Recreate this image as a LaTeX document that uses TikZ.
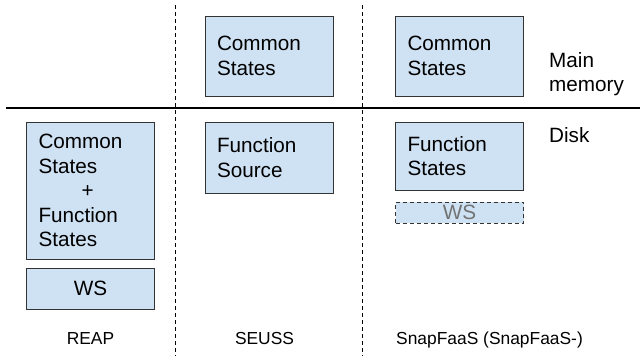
\documentclass[tikz,border=0pt]{standalone}
\usepackage{fontspec}
\setmainfont{Liberation Sans}
\usetikzlibrary{%
  positioning,%
  backgrounds%
}
\definecolor{boxblue}{HTML}{CFE2F3}
\definecolor{boxline}{HTML}{333333}

\begin{document}
\begin{tikzpicture}[x=1pt,y=-1pt,
    State/.style={draw=boxline, fill=boxblue, line width=1pt, rectangle,
      minimum width=128pt, text width=104pt, inner xsep=12pt, inner ysep=0pt,
      align=left, font=\fontsize{20.7}{24.5}\selectfont},
    Ghost/.style={State, dashed, dash pattern=on 4pt off 3pt, text=black!55, align=center},
    Level/.style={anchor=north west, inner sep=0pt, align=left,
      font=\fontsize{20.7}{24.5}\selectfont},
    System/.style={anchor=base, inner sep=0pt, font=\fontsize{17.4}{20}\selectfont},
    Split/.style={line width=1pt, dash pattern=on 4pt off 3pt}]
  \useasboundingbox (0,0) rectangle (640,356);
  % memory / disk border and columns
  \draw[line width=2pt] (6,107.5) -- (640,107.5);
  \draw[Split] (175,5) -- (175,356);
  \draw[Split] (362,5) -- (362,356);
  % REAP
  \node [State, minimum height=137pt] (reapAll) at (90.5,190.5)
    {Common\\States\\\hspace*{43pt}+\\Function\\States};
  \node [State, minimum height=41pt, align=center] (reapWS) at (90.5,288.5) {WS};
  % SEUSS
  \node [State, minimum height=80pt] (seussCommon) at (269,56) {Common\\States};
  \node [State, minimum height=71pt] (seussSource) at (269,157.5) {Function\\Source};
  % SnapFaaS
  \node [State, minimum height=80pt] (snapCommon) at (459.5,56) {Common\\States};
  \node [State, minimum height=68pt] (snapFunc) at (459.5,156) {Function\\States};
  \node [Ghost, minimum height=21pt] (snapWS) at (459.5,212.5) {WS};
  % levels
  \node [Level] (mainMem) at (549,52) {Main\\memory};
  \node [Level] (disk) at (549,127) {Disk};
  % systems
  \node [System] (reap) at (90.5,344) {REAP};
  \node [System] (seuss) at (264.5,344) {SEUSS};
  \node [System, anchor=base west] (snap) at (396,344) {SnapFaaS (SnapFaaS-)};
\end{tikzpicture}
\end{document}
